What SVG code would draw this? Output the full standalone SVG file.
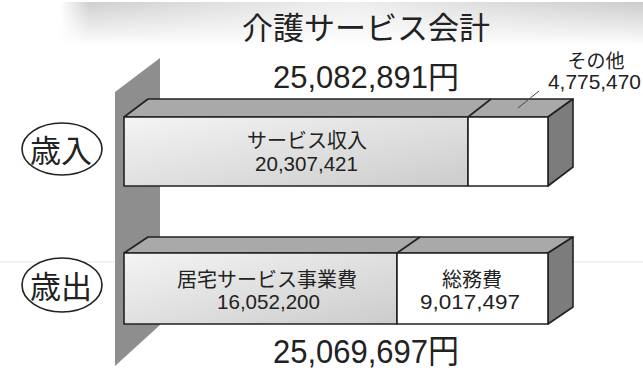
<svg xmlns="http://www.w3.org/2000/svg" width="643" height="377" viewBox="0 0 643 377">
<defs>
<linearGradient id="band" x1="0" y1="0" x2="1" y2="0">
<stop offset="0" stop-color="#ffffff"/>
<stop offset="0.05" stop-color="#cfcfcf"/>
<stop offset="0.25" stop-color="#dedede"/>
<stop offset="0.5" stop-color="#eeeeee"/>
<stop offset="0.75" stop-color="#dcdcdc"/>
<stop offset="1" stop-color="#cccccc"/>
</linearGradient>
<linearGradient id="bandv" x1="0" y1="0" x2="0" y2="1">
<stop offset="0" stop-color="#fff" stop-opacity="0"/>
<stop offset="0.5" stop-color="#fff" stop-opacity="0.5"/>
<stop offset="1" stop-color="#fff" stop-opacity="1"/>
</linearGradient>
<linearGradient id="front" x1="0" y1="0" x2="1" y2="1">
<stop offset="0" stop-color="#f4f4f4"/>
<stop offset="0.5" stop-color="#e0e0e0"/>
<stop offset="1" stop-color="#cccccc"/>
</linearGradient>
<style>
.t{font-family:"Noto Sans CJK JP","Liberation Sans",sans-serif;fill:#222;text-anchor:middle}
.n{font-family:"Liberation Sans","Noto Sans CJK JP",sans-serif;fill:#222}
.edge{stroke:#222;stroke-width:1.6;stroke-linejoin:round}
.top{fill:#a9a9a9}
.side{fill:#7c7c7c}
.white{fill:#ffffff}
</style>
</defs>
<rect width="643" height="377" fill="#ffffff"/>
<line x1="0" y1="262" x2="643" y2="262" stroke="#e6e4ee" stroke-width="1"/>
<g id="title">
<rect x="60" y="2" width="583" height="44" fill="url(#band)"/>
<rect x="60" y="2" width="583" height="44" fill="url(#bandv)"/>
<text class="t" x="366" y="39" font-size="31">介護サービス会計</text>
</g>
<g id="wall">
<polygon points="115,92 160,58 160,325 115,366" fill="#8e8e8e"/>
</g>
<g id="revenue-bar">
<polygon class="top edge" points="124,117 148,99 573,99 548,117"/>
<polygon class="side edge" points="548,117 573,99 573,167 548,186"/>
<rect class="edge" x="124" y="117" width="344" height="69" fill="url(#front)"/>
<rect class="white edge" x="468" y="117" width="80" height="69"/>
<line class="edge" x1="468" y1="117" x2="491" y2="99"/>
<text class="t" x="307" y="148" font-size="20">サービス収入</text>
<text class="n" x="255" y="171" font-size="21" textLength="103" lengthAdjust="spacingAndGlyphs">20,307,421</text>
</g>
<g id="expenditure-bar">
<polygon class="top edge" points="124,253 148,237 573,237 548,253"/>
<polygon class="side edge" points="548,253 573,237 573,307 548,324"/>
<rect class="edge" x="124" y="253" width="273" height="71" fill="url(#front)"/>
<rect class="white edge" x="397" y="253" width="151" height="71"/>
<line class="edge" x1="397" y1="253" x2="420" y2="237"/>
<text class="t" x="267" y="287" font-size="20">居宅サービス事業費</text>
<text class="n" x="217" y="309" font-size="21" textLength="103" lengthAdjust="spacingAndGlyphs">16,052,200</text>
<text class="t" x="472" y="287" font-size="20">総務費</text>
<text class="n" x="420" y="309" font-size="21" textLength="100" lengthAdjust="spacingAndGlyphs">9,017,497</text>
</g>
<g id="label-revenue">
<ellipse cx="62" cy="149" rx="40" ry="26" fill="#fff" stroke="#222" stroke-width="1.6"/>
<text class="t" x="61" y="162" font-size="31">歳入</text>
</g>
<g id="label-expenditure">
<ellipse cx="62" cy="285" rx="40" ry="27" fill="#fff" stroke="#222" stroke-width="1.6"/>
<text class="t" x="61" y="298" font-size="31">歳出</text>
</g>
<g id="totals">
<text class="n" x="273" y="88" font-size="31" textLength="186" lengthAdjust="spacingAndGlyphs">25,082,891円</text>
<text class="n" x="273" y="363" font-size="33" textLength="186" lengthAdjust="spacingAndGlyphs">25,069,697円</text>
</g>
<g id="other-label">
<text class="t" x="596" y="68" font-size="19">その他</text>
<text class="n" x="548" y="89" font-size="21" textLength="93" lengthAdjust="spacingAndGlyphs">4,775,470</text>
<line x1="539" y1="91" x2="518" y2="108" stroke="#444" stroke-width="1"/>
</g>
</svg>
